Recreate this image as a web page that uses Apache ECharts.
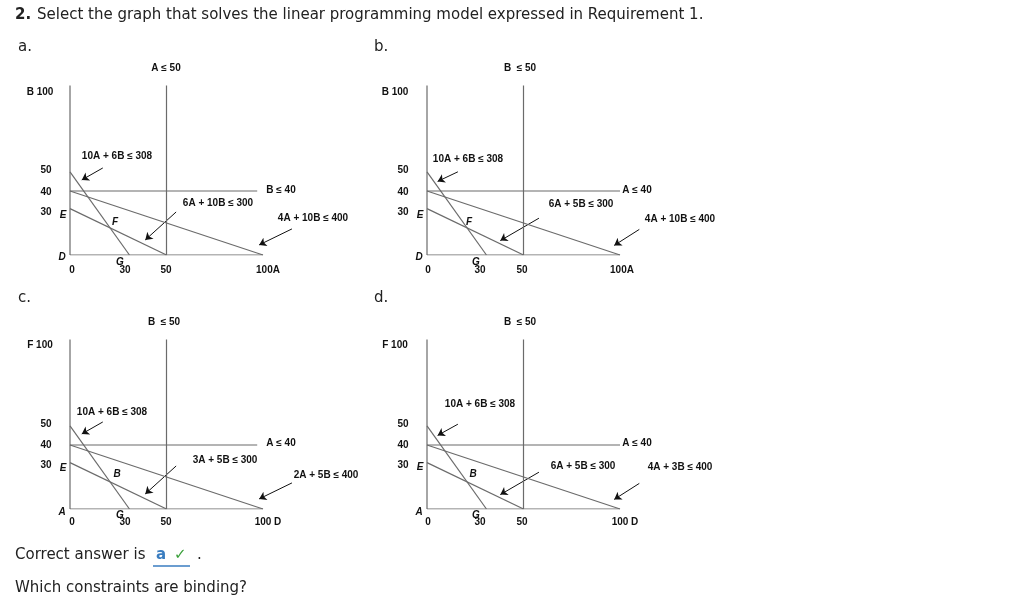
<!DOCTYPE html>
<html><head><meta charset="utf-8">
<script src="https://cdn.jsdelivr.net/npm/echarts@6/dist/echarts.min.js"></script>
<style>html,body{margin:0;padding:0;background:#fff}#c{width:1024px;height:609px}</style>
</head><body><div id="c"></div>
<script>
// data
const panelNames = ['a','b','c','d'];
const axisTop = 106;
const axisX = 100;
const verticalAt = 50;
const horizontalAt = 40;
const horizontalEnd = [97, 100, 97, 100];
const constraintA = [[0, 52], [30.8, 0]];   // 10A + 6B <= 308
const constraintB = [[0, 40], [100, 0]];
const constraintC = [[0, 29], [50, 0]];
const arrows = [
  [[[17,54.4],[6.1,46.9]], [[55,26.9],[39,9.4]], [[115,16.3],[98,6.3]]],
  [[[16,52],[5.5,46]], [[58,23],[38,9]], [[110,16],[97,6]]],
  [[[17,54.4],[6.1,46.9]], [[55,26.9],[39,9.4]], [[115,16.3],[98,6.3]]],
  [[[16,53],[5.5,46]], [[58,23],[38,9]], [[110,16],[97,6]]]
];
const origins = [[70,255],[427,255],[70,509],[427,509]];
const panelTexts = [
  [['A ≤ 50',166,68],['B 100',40,92],['50',46,170],['40',46,192],['30',46,212],['E',63,215,1],['F',115,222,1],['D',62,257,1],['G',120,262,1],['0',72,270],['30',125,270],['50',166,270],['100A',268,270],['10A + 6B ≤ 308',117,156],['B ≤ 40',281,190],['6A + 10B ≤ 300',218,203],['4A + 10B ≤ 400',313,218]],
  [['B  ≤ 50',520,68],['B 100',395,92],['50',403,170],['40',403,192],['30',403,212],['E',420,215,1],['F',469,222,1],['D',419,257,1],['G',476,262,1],['0',428,270],['30',480,270],['50',522,270],['100A',622,270],['10A + 6B ≤ 308',468,159],['A ≤ 40',637,190],['6A + 5B ≤ 300',581,204],['4A + 10B ≤ 400',680,219]],
  [['B  ≤ 50',164,322],['F 100',40,345],['50',46,424],['40',46,445],['30',46,465],['E',63,468,1],['B',117,474,1],['A',62,512,1],['G',120,515,1],['0',72,522],['30',125,522],['50',166,522],['100 D',268,522],['10A + 6B ≤ 308',112,412],['A ≤ 40',281,443],['3A + 5B ≤ 300',225,460],['2A + 5B ≤ 400',326,475]],
  [['B  ≤ 50',520,322],['F 100',395,345],['50',403,424],['40',403,445],['30',403,465],['E',420,467,1],['B',473,474,1],['A',419,512,1],['G',476,515,1],['0',428,522],['30',480,522],['50',522,522],['100 D',625,522],['10A + 6B ≤ 308',480,404],['A ≤ 40',637,443],['6A + 5B ≤ 300',583,466],['4A + 3B ≤ 400',680,467]]
];
// build
const chart = echarts.init(document.getElementById('c'));
const grid=[],xAxis=[],yAxis=[],series=[],graphic=[];
const pxX=1.93, pxY=1.6, xMax=120;
origins.forEach((o,i)=>{
  grid.push({left:o[0],top:o[1]-axisTop*pxY,width:xMax*pxX,height:axisTop*pxY});
  xAxis.push({gridIndex:i,type:'value',min:0,max:xMax,show:false});
  yAxis.push({gridIndex:i,type:'value',min:0,max:axisTop,show:false});
  const segs=[
    [[0,0],[0,axisTop]],[[0,0],[axisX,0]],[[verticalAt,0],[verticalAt,axisTop]],
    [[0,horizontalAt],[horizontalEnd[i],horizontalAt]],constraintA,constraintB,constraintC];
  segs.forEach(s=>series.push({type:'line',xAxisIndex:i,yAxisIndex:i,data:s,symbol:'none',silent:true,
    lineStyle:{color:'#6b6b6b',width:1.2},animation:false}));
  series.push({type:'lines',coordinateSystem:'cartesian2d',xAxisIndex:i,yAxisIndex:i,animation:false,
    symbol:['none','arrow'],symbolSize:7,lineStyle:{color:'#111',width:1,opacity:1},itemStyle:{color:'#111'},
    data:arrows[i].map(a=>({coords:a}))});
  panelTexts[i].forEach(t=>graphic.push({type:'text',x:t[1],y:t[2],style:{text:t[0],
    font:(t[3]?'italic ':'')+'bold 10px "Liberation Sans", Arial',fill:'#111',align:'center',verticalAlign:'middle'}}));
});
const F='15px "DejaVu Sans", Verdana', FB='bold 15px "DejaVu Sans", Verdana';
const txt=(s,x,y,extra)=>graphic.push({type:'text',x,y,style:Object.assign({text:s,font:F,fill:'#222',verticalAlign:'middle'},extra||{})});
txt('2.',15,15,{font:FB});
txt('Select the graph that solves the linear programming model expressed in Requirement 1.',37,15);
txt('a.',18,47);txt('b.',374,47);txt('c.',18,298);txt('d.',374,298);
txt('Correct answer is',15,555);
txt('a',156,555,{fill:'#3a7dc0',font:FB});
txt('✓',174,555,{fill:'#3aa03a',font:FB});
txt('.',197,555);
graphic.push({type:'line',shape:{x1:153,y1:566,x2:190,y2:566},style:{stroke:'#3a7dc0',lineWidth:1.5}});
txt('Which constraints are binding?',15,588);
chart.setOption({animation:false,grid,xAxis,yAxis,series,graphic});
</script></body></html>
